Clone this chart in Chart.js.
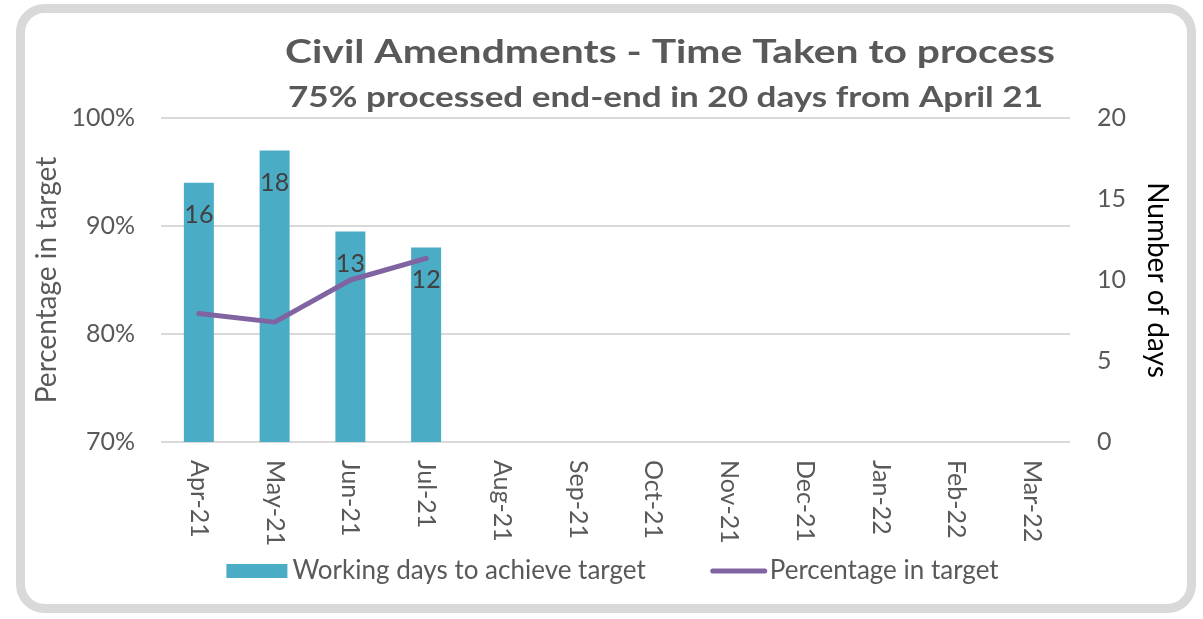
<!DOCTYPE html>
<html><head><meta charset="utf-8">
<script src="https://cdn.jsdelivr.net/npm/chart.js@4.4.0/dist/chart.umd.min.js"></script>
<style>html,body{margin:0;padding:0;background:#fff;overflow:hidden}#wrap{width:1203px;height:619px;position:relative}</style>
</head><body><div id="wrap"><canvas id="c" width="1203" height="619"></canvas></div>
<script>
// ---- data ----
const categories = ['Apr-21','May-21','Jun-21','Jul-21','Aug-21','Sep-21','Oct-21','Nov-21','Dec-21','Jan-22','Feb-22','Mar-22'];
const workingDays = [16, 18, 13, 12, null, null, null, null, null, null, null, null];
const percentInTarget = [0.819, 0.811, 0.85, 0.87, null, null, null, null, null, null, null, null];
const leftAxisMin = 0.7, leftAxisMax = 1.0, leftAxisStep = 0.1;
const rightAxisMin = 0, rightAxisMax = 20, rightAxisStep = 5;
const titleText = 'Civil Amendments - Time Taken to process';
const subtitleText = '75% processed end-end in 20 days from April 21';
const barLabel = 'Working days to achieve target';
const lineLabel = 'Percentage in target';
const leftAxisTitle = 'Percentage in target';
const rightAxisTitle = 'Number of days';

const FONT = 'Lato';
const GREY = '#595959';

function roundRect(ctx, x, y, w, h, r) {
  ctx.beginPath();
  ctx.moveTo(x + r, y);
  ctx.lineTo(x + w - r, y);
  ctx.arcTo(x + w, y, x + w, y + r, r);
  ctx.lineTo(x + w, y + h - r);
  ctx.arcTo(x + w, y + h, x + w - r, y + h, r);
  ctx.lineTo(x + r, y + h);
  ctx.arcTo(x, y + h, x, y + h - r, r);
  ctx.lineTo(x, y + r);
  ctx.arcTo(x, y, x + r, y, r);
  ctx.closePath();
}

// draw text centred at cx, stretched horizontally to a target width
function fitText(ctx, text, cx, y, targetW) {
  const w = ctx.measureText(text).width;
  const sx = targetW / w;
  ctx.save();
  ctx.translate(cx, y);
  ctx.scale(sx, 1);
  ctx.textAlign = 'center';
  ctx.fillText(text, 0, 0);
  ctx.restore();
}

const framePlugin = {
  id: 'frame',
  beforeDraw(chart) {
    const ctx = chart.ctx;
    ctx.save();
    ctx.fillStyle = '#fff';
    ctx.fillRect(0, 0, chart.width, chart.height);
    roundRect(ctx, 20.5, 8.5, 1171, 600, 24);
    ctx.lineWidth = 9;
    ctx.strokeStyle = '#d9d9d9';
    ctx.stroke();
    ctx.restore();
  }
};

const titlePlugin = {
  id: 'titles',
  afterDraw(chart) {
    const ctx = chart.ctx;
    ctx.save();
    ctx.fillStyle = GREY;
    ctx.textBaseline = 'alphabetic';
    ctx.font = 'bold 33px ' + FONT;
    fitText(ctx, titleText, 670, 63, 770);
    ctx.font = 'bold 28px ' + FONT;
    fitText(ctx, subtitleText, 665.5, 107, 755);
    ctx.restore();
  }
};

const barLabelPlugin = {
  id: 'barLabels',
  afterDatasetsDraw(chart) {
    const ctx = chart.ctx;
    const meta = chart.getDatasetMeta(0);
    ctx.save();
    ctx.fillStyle = '#404040';
    ctx.font = '25px ' + FONT;
    ctx.textAlign = 'center';
    ctx.textBaseline = 'middle';
    meta.data.forEach((el, i) => {
      const v = chart.data.datasets[0].data[i];
      if (v === null || v === undefined) return;
      ctx.fillText(String(v), el.x, el.y + 32.5);
    });
    ctx.restore();
  }
};

const xLabelPlugin = {
  id: 'xLabels',
  afterDraw(chart) {
    const ctx = chart.ctx;
    const xs = chart.scales.x;
    ctx.save();
    ctx.fillStyle = GREY;
    ctx.font = '25px ' + FONT;
    ctx.textAlign = 'left';
    ctx.textBaseline = 'middle';
    categories.forEach((c, i) => {
      const x = xs.getPixelForValue(i);
      ctx.save();
      ctx.translate(x, 460);
      ctx.rotate(Math.PI / 2);
      ctx.fillText(c, 0, 0);
      ctx.restore();
    });
    ctx.restore();
  }
};

const legendPlugin = {
  id: 'customLegend',
  afterDraw(chart) {
    const ctx = chart.ctx;
    const ds = chart.data.datasets;
    ctx.save();
    ctx.font = '26px ' + FONT;
    ctx.textBaseline = 'middle';
    ctx.textAlign = 'left';
    const y = 571;
    const boxW = 61, gap1 = 5, itemGap = 65, lineW = 56, gap2 = 3;
    const t1 = ctx.measureText(ds[0].label).width;
    const t2 = ctx.measureText(ds[1].label).width;
    const total = boxW + gap1 + t1 + itemGap + lineW + gap2 + t2;
    let x = 612.5 - total / 2;
    ctx.fillStyle = ds[0].backgroundColor;
    ctx.fillRect(x, y - 7, boxW, 14);
    x += boxW + gap1;
    ctx.fillStyle = GREY;
    ctx.fillText(ds[0].label, x, y);
    x += t1 + itemGap;
    ctx.strokeStyle = ds[1].borderColor;
    ctx.lineWidth = 5;
    ctx.lineCap = 'round';
    ctx.beginPath();
    ctx.moveTo(x + 2, y);
    ctx.lineTo(x + lineW - 2, y);
    ctx.stroke();
    x += lineW + gap2;
    ctx.fillStyle = GREY;
    ctx.fillText(ds[1].label, x, y);
    ctx.restore();
  }
};

function build() {
  new Chart(document.getElementById('c'), {
    data: {
      labels: categories,
      datasets: [
        {
          type: 'bar', label: barLabel, data: workingDays, yAxisID: 'yR',
          backgroundColor: '#4BACC6', barPercentage: 0.396, categoryPercentage: 1, order: 1
        },
        {
          type: 'line', label: lineLabel, data: percentInTarget, yAxisID: 'yL',
          borderColor: '#8064A2', backgroundColor: '#8064A2', borderWidth: 5, pointRadius: 0,
          pointHoverRadius: 0, borderCapStyle: 'round', borderJoinStyle: 'round', tension: 0, order: 0
        }
      ]
    },
    options: {
      responsive: false, animation: false, devicePixelRatio: 1,
      layout: { padding: { top: 118, left: 0, right: 0, bottom: 0 } },
      plugins: { legend: { display: false }, tooltip: { enabled: false }, title: { display: false } },
      scales: {
        x: {
          grid: { display: false }, border: { display: false },
          ticks: { display: false },
          afterFit: s => { s.height = 177; }
        },
        yL: {
          position: 'left', min: leftAxisMin, max: leftAxisMax,
          ticks: { stepSize: leftAxisStep, callback: v => Math.round(v * 100) + '%', color: GREY, font: { family: FONT, size: 25 }, padding: 26 },
          grid: { color: '#d9d9d9', lineWidth: 2, drawTicks: false },
          border: { display: false },
          title: { display: true, text: leftAxisTitle, color: GREY, font: { family: FONT, size: 28 }, padding: { top: 30, bottom: 0 } },
          afterFit: s => { s.width = 161; }
        },
        yR: {
          position: 'right', min: rightAxisMin, max: rightAxisMax,
          ticks: { stepSize: rightAxisStep, color: GREY, font: { family: FONT, size: 25 }, padding: 27 },
          grid: { display: false, drawTicks: false },
          border: { display: false },
          title: { display: true, text: rightAxisTitle, color: '#000', font: { family: FONT, size: 28 }, padding: { top: 29, bottom: 0 } },
          afterFit: s => { s.width = 133; }
        }
      }
    },
    plugins: [framePlugin, titlePlugin, barLabelPlugin, xLabelPlugin, legendPlugin]
  });
}
Promise.all([
  document.fonts.load('25px Lato'), document.fonts.load('bold 33px Lato')
]).then(build, build);
</script></body></html>
